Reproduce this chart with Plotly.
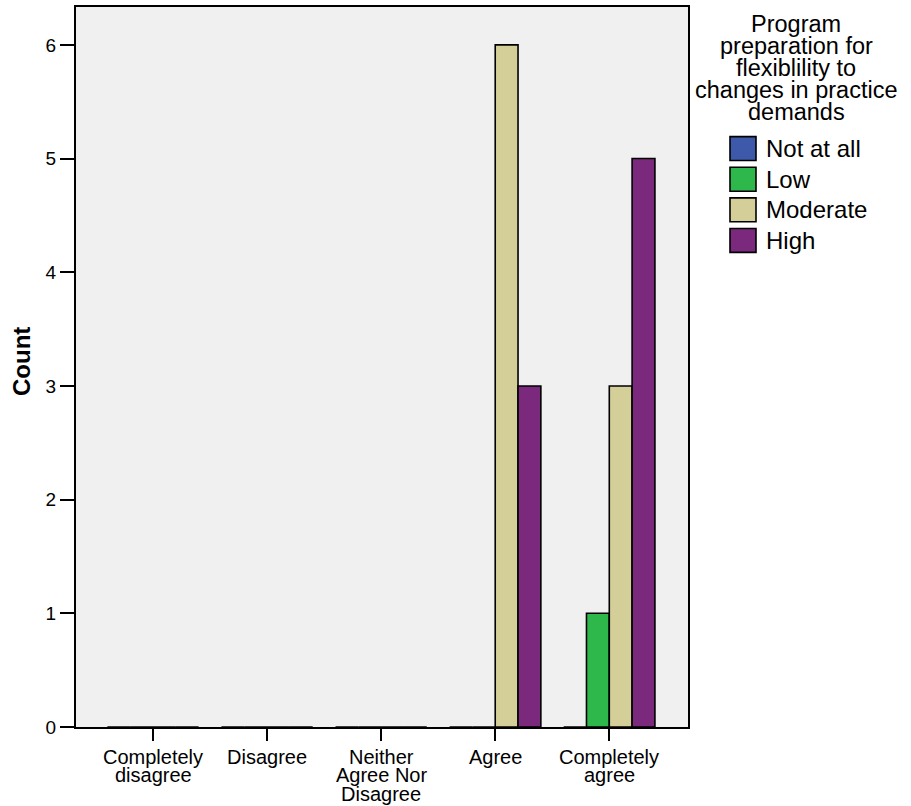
import plotly.graph_objects as go

categories = ["Completely disagree", "Disagree", "Neither Agree Nor Disagree", "Agree", "Completely agree"]
category_label_lines = [["Completely", "disagree"], ["Disagree"], ["Neither", "Agree Nor", "Disagree"], ["Agree"], ["Completely", "agree"]]
series_names = ["Not at all", "Low", "Moderate", "High"]
series_values = {
    "Not at all": [0, 0, 0, 0, 0],
    "Low": [0, 0, 0, 0, 1],
    "Moderate": [0, 0, 0, 6, 3],
    "High": [0, 0, 0, 3, 5],
}
colors = ["#3E59AA", "#2EB84B", "#D4CF98", "#7B297C"]
legend_title_lines = ["Program", "preparation for", "flexiblility to", "changes in practice", "demands"]
y_ticks = [0, 1, 2, 3, 4, 5, 6]

FONT = "Arial, Liberation Sans, sans-serif"

fig = go.Figure()
for name, col in zip(series_names, colors):
    fig.add_trace(go.Bar(
        x=list(range(len(categories))), y=series_values[name], name=name,
        marker=dict(color=col, line=dict(color="black", width=1.6)),
        showlegend=False,
    ))

W, H = 911, 806
L, R, T, B = 76, 223, 5, 79
pw, ph = W - L - R, H - T - B

def px(x):
    return (x - L) / pw

def py(y):
    return (H - B - y) / ph

fig.update_layout(
    width=W, height=H,
    margin=dict(l=L, r=R, t=T, b=B),
    paper_bgcolor="white", plot_bgcolor="#F0F0F0",
    barmode="group", bargap=0.2, bargroupgap=0,
    font=dict(family=FONT, color="black", size=20),
    xaxis=dict(
        range=[-0.675, 4.69], tickmode="array",
        tickvals=list(range(len(categories))), showticklabels=False,
        ticks="outside", ticklen=12, tickwidth=1.5, tickcolor="black",
        showline=True, linecolor="black", linewidth=2, mirror=True,
        showgrid=False, zeroline=False,
    ),
    yaxis=dict(
        range=[0, 6.333], tickmode="array", tickvals=y_ticks,
        ticks="outside", ticklen=14, tickwidth=1.5, tickcolor="black",
        showline=True, linecolor="black", linewidth=2, mirror=True,
        showgrid=False, zeroline=False, tickfont=dict(size=19, family=FONT),
    ),
)

annotations = [dict(
    text="<b>Count</b>", xref="paper", yref="paper", x=px(21), y=py(361),
    textangle=-90, showarrow=False, font=dict(size=24, family=FONT),
    xanchor="center", yanchor="middle",
)]
# category labels, one line per annotation, placed on the x scale
for ci, lines in enumerate(category_label_lines):
    for li, line in enumerate(lines):
        annotations.append(dict(
            text=line, xref="x", yref="paper", x=ci, y=py(757 + 18.5 * li),
            showarrow=False, font=dict(size=20, family=FONT),
            xanchor="center", yanchor="middle",
        ))
for i, line in enumerate(legend_title_lines):
    annotations.append(dict(
        text=line, xref="paper", yref="paper", x=px(796), y=py(22 + 22 * i),
        showarrow=False, font=dict(size=23.5, family=FONT),
        xanchor="center", yanchor="middle",
    ))
shapes = []
for i, (name, col) in enumerate(zip(series_names, colors)):
    cy = 147 + 30.7 * i
    shapes.append(dict(
        type="rect", xref="paper", yref="paper",
        x0=px(730), x1=px(756), y0=py(cy - 12), y1=py(cy + 12),
        fillcolor=col, line=dict(color="black", width=1.6),
    ))
    annotations.append(dict(
        text=name, xref="paper", yref="paper", x=px(764), y=py(cy),
        showarrow=False, font=dict(size=24, family=FONT),
        xanchor="left", yanchor="middle",
    ))

fig.update_layout(annotations=annotations, shapes=shapes)
fig.write_html("out.html", config={"displayModeBar": False},
               post_script="document.body.style.margin='0px';")
